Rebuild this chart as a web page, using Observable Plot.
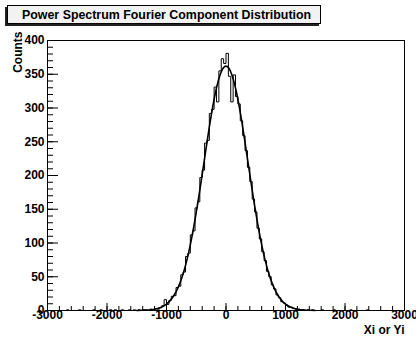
<!DOCTYPE html>
<html>
<head>
<meta charset="utf-8">
<script src="https://cdn.jsdelivr.net/npm/d3@7"></script>
<script src="https://cdn.jsdelivr.net/npm/@observablehq/plot@0.6"></script>
<style>
  html, body { margin: 0; padding: 0; background: #ffffff; }
  #wrap { position: relative; width: 416px; height: 339px; overflow: hidden; font-family: "Liberation Sans", Arial, Helvetica, sans-serif; }
  #title {
    position: absolute; left: 7px; top: 5px; width: 314px; height: 19px;
    border: 1px solid #000; background: #f2f2f2;
    box-shadow: -2px 2px 0 #222;
    font-weight: bold; font-size: 12.4px; line-height: 18px;
    padding-left: 14px; box-sizing: border-box;
    white-space: nowrap; color: #000;
  }
  #chart { position: absolute; left: 0; top: 0; }
</style>
</head>
<body>
<div id="wrap">
  <div id="chart"></div>
  <div id="title"></div>
</div>
<script>
// ---- data ----
const titleText = "Power Spectrum Fourier Component Distribution";
const xLabel = "Xi or Yi";
const yLabel = "Counts";
const binStart = -3000;
const binWidth = 40;
// counts per bin (150 bins, -3000 .. 3000)
const leftTail = [0,0,0,0,0,0,0,0,1,0, 0,0,0,1,0,0,0,0,0,1, 0,0,1,0,0,0,1,0,1,0, 0,1,0,0,1,0,1];
const core = [
  0,1,0,1,1,0,2,1,3,2,
  4,7,16,9,15,21,22,34,36,53,
  57,80,85,112,118,152,161,197,208,248,
  252,292,298,331,309,355,373,366,381,347,
  309,349,317,306,281,259,237,212,191,165,
  146,122,106,87,74,58,50,38,32,23,
  19,13,11,8,5,5,3,2,2,1,
  1,0,1,0,1,0
];
const rightTail = [0,0,1,0,0,0,0,1,0,0, 0,0,0,0,1,0,0,0,0,0, 0,1,0,0,0,0,0,0,0,0, 0,0,0,0,0,0,0];
const counts = [...leftTail, ...core, ...rightTail];

// fitted gaussian curve
const fitX = [-1500,-1400,-1300,-1200,-1100,-1000,-900,-800,-700,-600,-500,-400,-300,-200,-100,0,100,200,300,400,500,600,700,800,900,1000,1100,1200,1300,1400,1500];
const fitY = [0.1,0.3,0.8,1.9,4.4,9.4,18.8,35,60.5,97.2,145.2,201.8,260.6,312.8,349,362,349,312.8,260.6,201.8,145.2,97.2,60.5,35,18.8,9.4,4.4,1.9,0.8,0.3,0.1];

const xMajorTicks = [-3000,-2000,-1000,0,1000,2000,3000];
const xMinorTicks = d3.range(-3000, 3001, 200);
const yMajorTicks = [0,50,100,150,200,250,300,350,400];
const yMinorTicks = d3.range(0, 401, 10);

// ---- build ----
const stepPts = [];
counts.forEach((c, i) => {
  const x0 = binStart + i * binWidth, x1 = x0 + binWidth;
  stepPts.push({x: x0, y: c}, {x: x1, y: c});
});
const fit = fitX.map((x, i) => ({x, y: fitY[i]}));

document.getElementById("title").textContent = titleText;

const chart = Plot.plot({
  width: 416,
  height: 339,
  marginLeft: 47,
  marginRight: 12,
  marginTop: 40,
  marginBottom: 29,
  style: {fontFamily: "'Liberation Sans', Arial, Helvetica, sans-serif", fontWeight: "bold", fontSize: "12px", color: "#000", background: "transparent"},
  x: {domain: [-3000, 3000]},
  y: {domain: [0, 400]},
  marks: [
    Plot.line(stepPts, {x: "x", y: "y", stroke: "#000", strokeWidth: 1}),
    Plot.line(fit, {x: "x", y: "y", stroke: "#000", strokeWidth: 1.6, curve: "natural"}),
    Plot.axisX({ticks: xMinorTicks, tickSize: -4, tickFormat: () => "", label: null}),
    Plot.axisX({ticks: xMajorTicks, tickSize: -7, tickFormat: () => "", label: null}),
    Plot.axisX({ticks: xMajorTicks, tickSize: 0, tickPadding: 0, tickFormat: d => String(d), label: null}),
    Plot.axisY({ticks: yMinorTicks, tickSize: -6, tickFormat: () => "", label: null}),
    Plot.axisY({ticks: yMajorTicks, tickSize: -11, tickFormat: () => "", label: null}),
    Plot.axisY({ticks: yMajorTicks, tickSize: 0, tickPadding: 3, tickFormat: d => String(d), label: null}),
    Plot.frame({stroke: "#000", strokeWidth: 1}),
    Plot.text([yLabel], {frameAnchor: "top-left", text: d => d, rotate: -90, textAnchor: "end", lineAnchor: "middle", dx: -29, dy: -9, fontSize: 12, fontWeight: "bold"}),
    Plot.text([xLabel], {frameAnchor: "bottom-right", text: d => d, textAnchor: "end", lineAnchor: "middle", dx: 0, dy: 20, fontSize: 12, fontWeight: "bold"})
  ]
});
document.getElementById("chart").appendChild(chart);
</script>
</body>
</html>
